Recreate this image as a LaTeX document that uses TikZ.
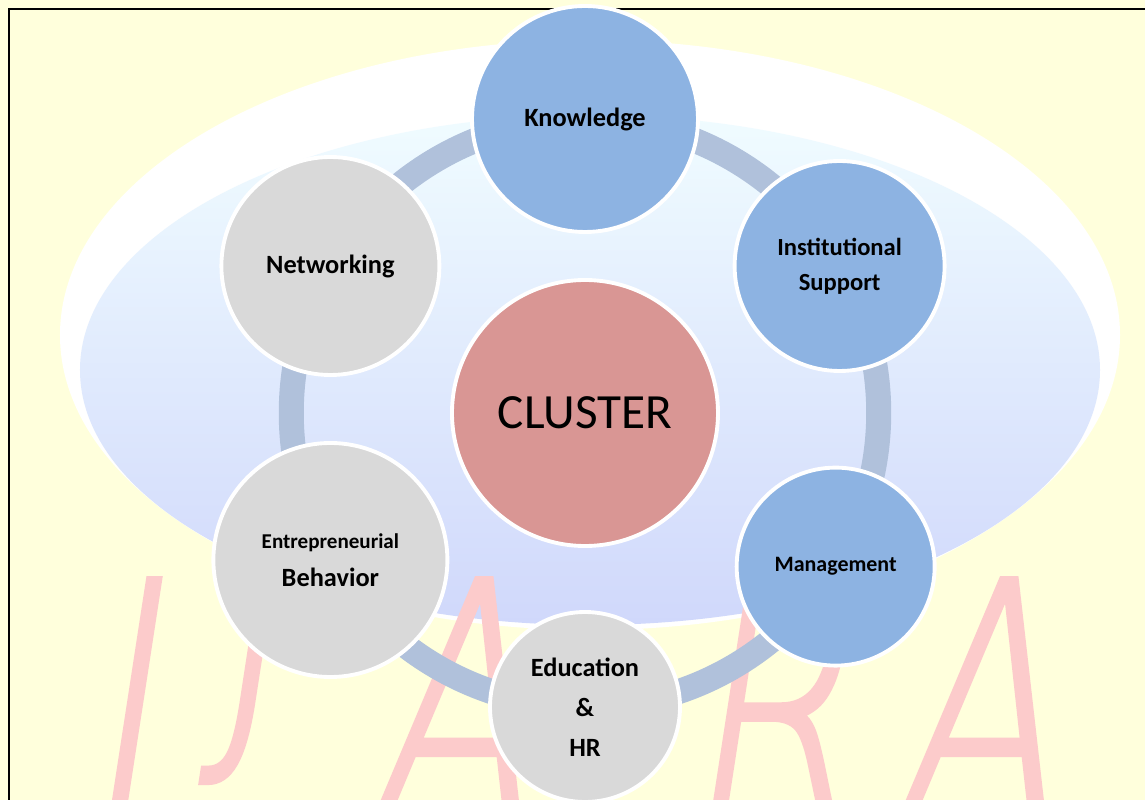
\documentclass[tikz,border=0pt]{standalone}
\usepackage{fontspec}
\setmainfont{Carlito}
\newfontfamily\wmfont[FakeSlant=0.22, FakeBold=1.5]{DejaVuSans-ExtraLight.ttf}
\usetikzlibrary{backgrounds}

\definecolor{bgyellow}{HTML}{FFFFDC}
\definecolor{ringblue}{HTML}{B0C1DB}
\definecolor{nodeblue}{HTML}{8DB3E2}
\definecolor{nodegray}{HTML}{D9D9D9}
\definecolor{hubred}{HTML}{D99694}
\definecolor{wmpink}{HTML}{FCCBCB}
\definecolor{globetop}{HTML}{F0FCFF}
\definecolor{globemid}{HTML}{E2F4FF}
\definecolor{globebot}{HTML}{D0D8FB}

\begin{document}
\begin{tikzpicture}[
  circ/.style={circle, draw=white, line width=2.2pt, align=center, inner sep=0pt, font=\bfseries\fontsize{15}{21.5}\selectfont},
  bluecirc/.style={circ, fill=nodeblue},
  graycirc/.style={circ, fill=nodegray},
  ring/.style={draw=ringblue, line width=0.5cm},
  letter/.style={anchor=base, xscale=0.7, text=wmpink, font=\wmfont\fontsize{200}{200}\selectfont}]
  \useasboundingbox (-11.7,-7.74) rectangle (11.2,8.26);
  % page, globe and IJARA watermark
  \begin{pgfonlayer}{background}
    \fill[bgyellow] (-11.7,-7.74) rectangle (11.2,8.26);
    \fill[white] (0.1,1.56) ellipse (10.6 and 5.9);
    \shade[top color=globetop, middle color=globemid, bottom color=globebot] (0.1,0.86) ellipse (10.2 and 5.1);
    \node[letter] (wi) at (-9.4,-8.44) {I};
    \node[letter] (wj) at (-6.8,-6.14) {J};
    \node[letter] (wa) at (-2.8,-8.44) {A};
    \node[letter] (wr) at (3.6,-8.44) {R};
    \node[letter] (wa2) at (7.7,-8.44) {A};
  \end{pgfonlayer}
  \draw[line width=1.2pt] (-11.52,-9) rectangle (12,8.08);
  % hub and the six factors
  \node[circ, fill=hubred, minimum size=5.32cm, font=\fontsize{28}{30}\selectfont] (hub) at (0,0) {CLUSTER};
  \node[bluecirc, minimum size=4.52cm] (know) at (90:5.88) {Knowledge};
  \node[bluecirc, minimum size=4.2cm, font=\bfseries\fontsize{14}{20}\selectfont] (inst) at (30:5.88) {Institutional\\Support};
  \node[bluecirc, minimum size=3.96cm, font=\bfseries\fontsize{12.5}{15}\selectfont] (mgmt) at (-31.5:5.88) {Management};
  \node[graycirc, minimum size=3.8cm, font=\bfseries\fontsize{15}{22.7}\selectfont] (edu) at (-90:5.88) {Education\\\&\\HR};
  \node[graycirc, minimum size=4.68cm] (entr) at (210:5.88) {{\fontsize{12}{14}\selectfont Entrepreneurial}\\Behavior};
  \node[graycirc, minimum size=4.36cm] (netw) at (150:5.88) {Networking};
  % ring behind the circles
  \begin{pgfonlayer}{background}
    \draw[ring] (know.center) to[bend left=30, looseness=0.91] (inst.center);
    \draw[ring] (inst.center) to[bend left=30.75, looseness=0.91] (mgmt.center);
    \draw[ring] (mgmt.center) to[bend left=29.25, looseness=0.91] (edu.center);
    \draw[ring] (edu.center) to[bend left=30, looseness=0.91] (entr.center);
    \draw[ring] (entr.center) to[bend left=30, looseness=0.91] (netw.center);
    \draw[ring] (netw.center) to[bend left=30, looseness=0.91] (know.center);
  \end{pgfonlayer}
\end{tikzpicture}
\end{document}
